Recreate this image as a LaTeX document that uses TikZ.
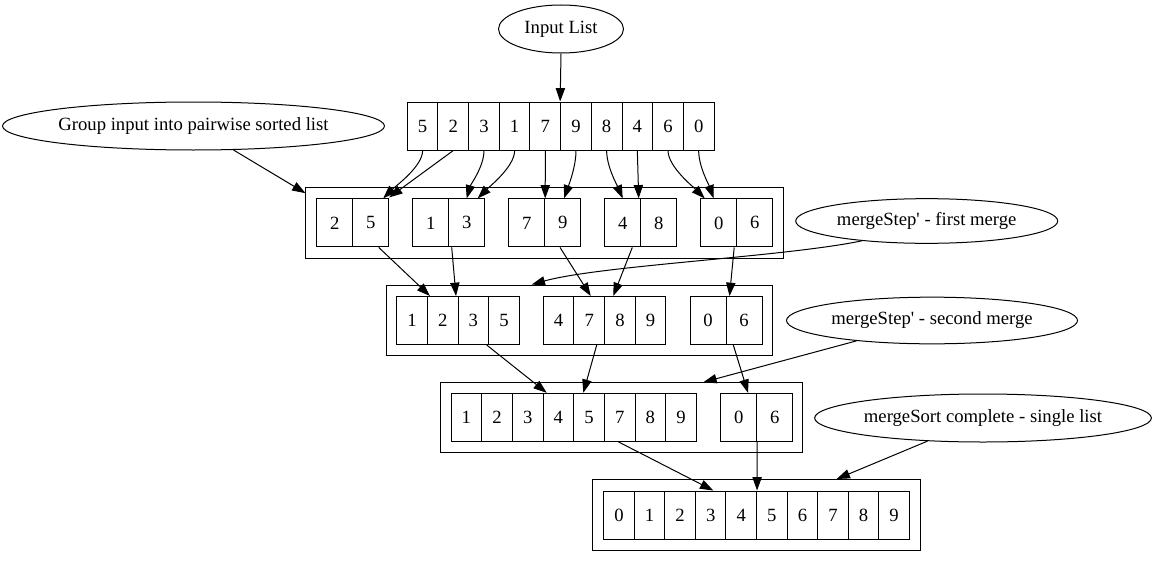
\documentclass[tikz,border=0pt]{standalone}
\usepackage{fontspec}
\setmainfont{Liberation Serif}
\usetikzlibrary{arrows.meta,calc,shapes.geometric}

\newcommand\gvfont{\fontsize{14pt}{16pt}\selectfont}
% one record: a row of cells named <prefix>1, <prefix>2, ...
% #1 prefix, #2 left x, #3 centre y, #4 cell width (px), #5 values
\newcommand\cellrow[5]{%
  \foreach \v [count=\i] in {#5} {%
    \node[cell, minimum width={#4*0.75pt}] (#1\i) at ({#2+#4*(\i-0.5)},#3) {\v};
  }%
}

\tikzset{
  line/.style={line width=0.75pt, draw=black},
  cell/.style={line, rectangle, minimum height=36pt, inner sep=0pt, font=\gvfont},
  outer/.style={line, rectangle, inner sep=0pt},
  label/.style={line, ellipse, inner sep=0pt, font=\gvfont},
  arr/.style={line, -{Triangle[length=10pt,width=7pt]}},
}

\begin{document}
\begin{tikzpicture}[x=0.75pt,y=-0.75pt]
\useasboundingbox (0,0) rectangle (1155,567);

% annotations
\node[label, minimum width=93.75pt, minimum height=36pt] (inp) at (561,29) {Input List};
\node[label, minimum width=285pt, minimum height=36pt] (grp) at (193.5,126) {Group input into pairwise sorted list};
\node[label, minimum width=196.5pt, minimum height=33.5pt] (m1) at (926.7,221) {mergeStep\textquotesingle{} - first merge};
\node[label, minimum width=218.25pt, minimum height=35pt] (m2) at (932,320.5) {mergeStep\textquotesingle{} - second merge};
\node[label, minimum width=252pt, minimum height=36pt] (m3) at (983,418) {mergeSort complete - single list};

% outer frames of the grouped lists
\node[outer, minimum width=358pt, minimum height=53pt] (r2box) at (544.65,223) {};
\node[outer, minimum width=289.5pt, minimum height=53pt] (r3box) at (579.7,320.35) {};
\node[outer, minimum width=271.3pt, minimum height=52.5pt] (r4box) at (621.85,417.7) {};
\node[outer, minimum width=245.9pt, minimum height=53.6pt] (r5box) at (756.6,515.25) {};

% input list
\cellrow{r1c}{407.3}{126}{30.67}{5,2,3,1,7,9,8,4,6,0}

% pairwise sorted
\cellrow{r2a}{316.7}{222.9}{36}{2,5}
\cellrow{r2b}{412.7}{222.9}{36}{1,3}
\cellrow{r2c}{508.7}{222.9}{36}{7,9}
\cellrow{r2d}{604.7}{222.9}{36}{4,8}
\cellrow{r2e}{700.7}{222.9}{36}{0,6}

% first merge
\cellrow{r3a}{396.7}{320.5}{30.67}{1,2,3,5}
\cellrow{r3b}{543.3}{320.5}{30.67}{4,7,8,9}
\cellrow{r3c}{690}{320.5}{36}{0,6}

% second merge
\cellrow{r4a}{451}{417.3}{30.67}{1,2,3,4,5,7,8,9}
\cellrow{r4b}{720.7}{417.3}{36}{0,6}

% final list
\cellrow{r5c}{603.7}{515}{30.57}{0,1,2,3,4,5,6,7,8,9}

% connectors
\draw[arr] (inp.south) -- (r1c6.north west);
\draw[arr] (grp) -- ($(r2box.north west)+(0,6)$);

\draw[arr] (r1c1.south) .. controls +(0,16) and +(12,-12) .. ($(r2a2.north)+(12.5,0)$);
\draw[arr] (r1c2.south) -- ($(r2a2.north)+(18.5,-1)$);
\draw[arr] (r1c3.south) .. controls +(0,16) and +(4,-14) .. (r2b2.north);
\draw[arr] (r1c4.south) .. controls +(0,16) and +(12,-12) .. ($(r2b2.north)+(11,0)$);
\draw[arr] (r1c5.south) -- (r2c1.north east);
\draw[arr] (r1c6.south) .. controls +(0,16) and +(5,-14) .. ($(r2c2.north)+(1.3,0)$);
\draw[arr] (r1c7.south) .. controls +(0,16) and +(-6,-14) .. (r2d1.north);
\draw[arr] (r1c8.south) -- ($(r2d1.north)+(16,0)$);
\draw[arr] (r1c9.south) .. controls +(0,16) and +(-12,-12) .. ($(r2e1.north)+(-14,0)$);
\draw[arr] (r1c10.south) .. controls +(0,16) and +(-5,-14) .. ($(r2e1.north)+(-5,0)$);

\draw[arr] ($(r2a2.south)+(8,0)$) -- ($(r3a2.north)+(-12.7,0)$);
\draw[arr] ($(r2b2.south)+(-15,0)$) -- ($(r3a2.north)+(13.3,0)$);
\draw[arr] ($(r2c2.south)+(-2.7,0)$) -- ($(r3b2.north)+(1.4,0)$);
\draw[arr] ($(r2d1.south)+(9.6,0)$) -- ($(r3b3.north)+(-6.7,0)$);
\draw[arr] ($(r2e1.south east)+(-3,0)$) -- ($(r3c1.north east)+(3,0)$);
\draw[arr] (m1.197) .. controls +(-77,16) and +(68,-19) .. ($(r3box.north)+(-48,0)$);

\draw[arr] ($(r3a3.south)+(13.3,0)$) -- ($(r4a4.north)+(-11.6,0)$);
\draw[arr] ($(r3b2.south)+(7.4,0)$) -- ($(r4a5.north)+(-5.7,0)$);
\draw[arr] ($(r3c2.south)+(-10.7,0)$) -- ($(r4b1.north)+(9.3,0)$);
\draw[arr] (m2) -- ($(r4box.north)+(81.5,0)$);

\draw[arr] ($(r4a6.south)+(-1.4,0)$) -- ($(r5c4.north)+(2.6,0)$);
\draw[arr] (r4b1.south east) -- (r5c5.north east);
\draw[arr] (m3) -- ($(r5box.north)+(80,0)$);
\end{tikzpicture}
\end{document}
